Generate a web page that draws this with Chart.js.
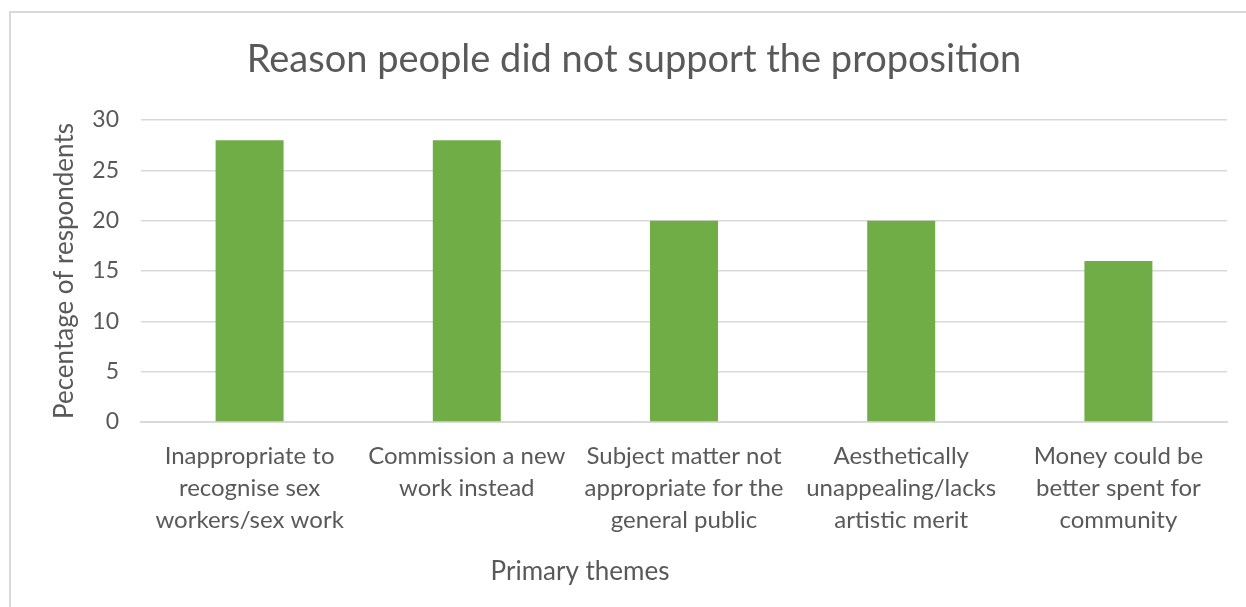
<!DOCTYPE html>
<html>
<head>
<meta charset="utf-8">
<script src="https://cdn.jsdelivr.net/npm/chart.js@4"></script>
<style>
  html, body { margin: 0; padding: 0; background: #fff; }
  #wrap { position: relative; width: 1246px; height: 607px; overflow: hidden; }
  #frame { position: absolute; left: 9px; top: 11px; width: 1300px; height: 700px;
           border-left: 2px solid #d9d9d9; border-top: 2px solid #d9d9d9; }
  canvas { position: absolute; left: 0; top: 0; }
</style>
</head>
<body>
<div id="wrap">
  <div id="frame"></div>
  <canvas id="themes-Chart" width="1246" height="607"></canvas>
</div>
<script>
const labels = [
    ["Inappropriate to", "recognise sex", "workers/sex work"],
    ["Commission a new", "work instead"],
    ["Subject matter not", "appropriate for the", "general public"],
    ["Aesthetically", "unappealing/lacks", "artistic merit"],
    ["Money could be", "better spent for", "community"],
];
const values = [28, 28, 20, 20, 16];
const yTicks = [0, 5, 10, 15, 20, 25, 30];

const textColor = "#595959";
const fontFamily = "Lato, 'Open Sans', sans-serif";

// x axis title sits left of centre in the original, so draw it by hand
const xTitle = {
    id: "xTitle",
    afterDraw(chart) {
        const ctx = chart.ctx;
        ctx.save();
        ctx.font = "26px " + fontFamily;
        ctx.fillStyle = textColor;
        ctx.textAlign = "center";
        ctx.textBaseline = "middle";
        ctx.fillText("Primary themes", chart.chartArea.left + 439, 572);
        ctx.restore();
    }
};

const data = {
    labels: labels,
    datasets: [
        {
            data: values,
            backgroundColor: "#70AD47",
            barPercentage: 0.313,
            categoryPercentage: 1,
        },
    ],
};

const config = {
    type: "bar",
    data: data,
    plugins: [xTitle],
    options: {
        responsive: false,
        animation: false,
        layout: { padding: { left: 41, right: 19, top: 0, bottom: 0 } },
        plugins: {
            legend: { display: false },
            tooltip: { enabled: false },
            title: {
                display: true,
                text: "Reason people did not support the proposition",
                color: textColor,
                font: { family: fontFamily, size: 38, weight: "normal" },
                padding: { top: 37, bottom: 37.4 },
            },
        },
        scales: {
            x: {
                grid: { display: false },
                border: { display: true, color: "#d9d9d9", width: 2 },
                ticks: {
                    color: textColor,
                    font: { family: fontFamily, size: 24, lineHeight: 1.333 },
                    padding: 10,
                    maxRotation: 0,
                    autoSkip: false,
                },
                afterFit(scale) { scale.height = 185; },
            },
            y: {
                min: 0,
                max: 30,
                afterBuildTicks(scale) {
                    scale.ticks = yTicks.map(v => ({ value: v }));
                },
                grid: { color: "#d9d9d9", lineWidth: 1.5, drawTicks: false },
                border: { display: false },
                ticks: {
                    color: textColor,
                    font: { family: fontFamily, size: 23 },
                    padding: 22,
                },
                title: {
                    display: true,
                    text: "Pecentage of respondents",
                    color: textColor,
                    font: { family: fontFamily, size: 26 },
                    padding: { top: 8, bottom: 0 },
                },
                afterFit(scale) { scale.width = 100; },
            },
        },
    },
};

let myChart = new Chart(document.getElementById("themes-Chart"), config);
</script>
</body>
</html>
